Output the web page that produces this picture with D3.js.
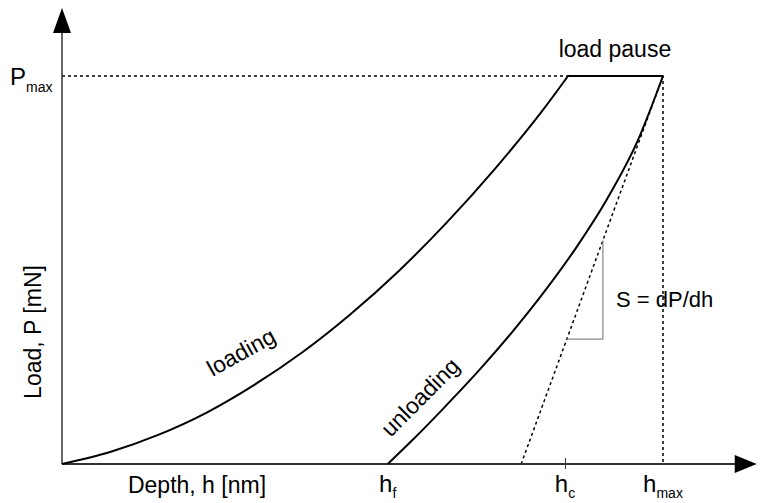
<!DOCTYPE html>
<html>
<head>
<meta charset="utf-8">
<script src="https://cdn.jsdelivr.net/npm/d3@7"></script>
<style>
body{margin:0;background:#fff;}
text{font-family:"Liberation Sans",Arial,sans-serif;fill:#000;}
</style>
</head>
<body>
<div id="chart"></div>
<script>
//schematic load-depth curve of an indentation test
var loadDepth=[0,8,16,24,32,40,48,56,64,72,80,84.2];//nm
var loadLoad=[0,0.31,0.75,1.32,2.04,2.88,3.86,4.97,6.22,7.60,9.12,10];//mN
var unloadDepth=[54.2,58.4,63.2,69.6,74.9,79.9,85.7,90.7,95.7,100];
var unloadLoad=[0,0.63,1.39,2.45,3.40,4.37,5.61,6.83,8.30,10];
var pMax=10;
var hMax=100;
var hF=54.2;
var hC=83.7;
var hTangent0=76.4;//where the tangent hits the depth axis
var slopeTri=[84.0,90.0];//depth span of the S triangle
var xEnd=115.6,yEnd=11.75;//axis extents

var width=760,height=503;
var svg=d3.select("#chart").append("svg")
	.attr("width",width)
	.attr("height",height);
svg.append("rect").attr("width",width).attr("height",height).attr("fill","#fff");

var x=d3.scaleLinear().domain([0,hMax]).range([62,663]);
var y=d3.scaleLinear().domain([0,pMax]).range([464,76]);

var line=d3.line()
	.x(function(d){return x(d[0]);})
	.y(function(d){return y(d[1]);})
	.curve(d3.curveMonotoneX);
var straight=d3.line()
	.x(function(d){return x(d[0]);})
	.y(function(d){return y(d[1]);});

//dashed guides
svg.append("path")
	.attr("d",straight([[0,pMax],[hMax,pMax],[hMax,0]]))
	.attr("fill","none").attr("stroke","#000").attr("stroke-width",1.5)
	.attr("stroke-dasharray","3,3");
svg.append("path")
	.attr("d",straight([[hTangent0,0],[hMax,pMax]]))
	.attr("fill","none").attr("stroke","#000").attr("stroke-width",1.5)
	.attr("stroke-dasharray","3,3");

//slope triangle
var tan=function(h){return (h-hTangent0)*pMax/(hMax-hTangent0);};
svg.append("path")
	.attr("d",straight([[slopeTri[0],tan(slopeTri[0])],[slopeTri[1],tan(slopeTri[0])],[slopeTri[1],tan(slopeTri[1])]]))
	.attr("fill","none").attr("stroke","#888").attr("stroke-width",1.2);

//axes
var xAxis=svg.append("g")
	.attr("transform","translate(0,"+y(0)+")")
	.call(d3.axisBottom(x).tickValues([hC]).tickFormat("").tickSize(5).tickSizeOuter(0));
xAxis.select(".domain").remove();
xAxis.selectAll(".tick line").attr("y1",-6).attr("stroke","#333").attr("stroke-width",1);
svg.append("line")
	.attr("x1",x(0)).attr("y1",y(0)).attr("x2",x(xEnd)-10).attr("y2",y(0))
	.attr("stroke","#333").attr("stroke-width",2);
svg.append("line")
	.attr("x1",x(0)).attr("y1",y(0)).attr("x2",x(0)).attr("y2",y(yEnd)+10)
	.attr("stroke","#333").attr("stroke-width",1.5);
svg.append("path")
	.attr("d","M"+x(xEnd)+","+y(0)+"L"+(x(xEnd)-22)+","+(y(0)-9)+"L"+(x(xEnd)-22)+","+(y(0)+9)+"Z")
	.attr("fill","#000");
svg.append("path")
	.attr("d","M"+x(0)+","+y(yEnd)+"L"+(x(0)-9)+","+(y(yEnd)+25)+"L"+(x(0)+9)+","+(y(yEnd)+25)+"Z")
	.attr("fill","#000");

//curves
svg.append("path")
	.datum(d3.zip(loadDepth,loadLoad))
	.attr("d",line)
	.attr("fill","none").attr("stroke","#000").attr("stroke-width",2);
svg.append("path")
	.datum(d3.zip(unloadDepth,unloadLoad))
	.attr("d",line)
	.attr("fill","none").attr("stroke","#000").attr("stroke-width",2);
svg.append("path")
	.attr("d",straight([[loadDepth[loadDepth.length-1],pMax],[hMax,pMax]]))
	.attr("fill","none").attr("stroke","#000").attr("stroke-width",2);

//labels
svg.append("text").attr("x",x(92)).attr("y",y(pMax)-19)
	.attr("text-anchor","middle").style("font-size","23px").text("load pause");
svg.append("text").attr("x",616).attr("y",307)
	.style("font-size","22px").text("S = dP/dh");
svg.append("text").attr("transform","translate(241,352) rotate(-29)")
	.attr("text-anchor","middle").attr("dy","0.35em").style("font-size","23px").text("loading");
svg.append("text").attr("transform","translate(420,397) rotate(-45)")
	.attr("text-anchor","middle").attr("dy","0.35em").style("font-size","23px").text("unloading");
svg.append("text").attr("transform","translate(33,332) rotate(-90)")
	.attr("text-anchor","middle").attr("dy","0.35em").style("font-size","23px").text("Load, P [mN]");
svg.append("text").attr("x",197).attr("y",493)
	.attr("text-anchor","middle").style("font-size","23px").text("Depth, h [nm]");

var pl=svg.append("text").attr("x",10).attr("y",y(pMax)+9).style("font-size","24px");
pl.append("tspan").text("P");
pl.append("tspan").attr("dy",7).style("font-size","14px").text("max");

var hLabels=[{v:hF,s:"f"},{v:hC,s:"c"},{v:hMax,s:"max"}];
hLabels.forEach(function(d){
	var t=svg.append("text").attr("x",x(d.v)).attr("y",492)
		.attr("text-anchor","middle").style("font-size","24px");
	t.append("tspan").text("h");
	t.append("tspan").attr("dy",6).style("font-size","14px").text(d.s);
});
</script>
</body>
</html>
